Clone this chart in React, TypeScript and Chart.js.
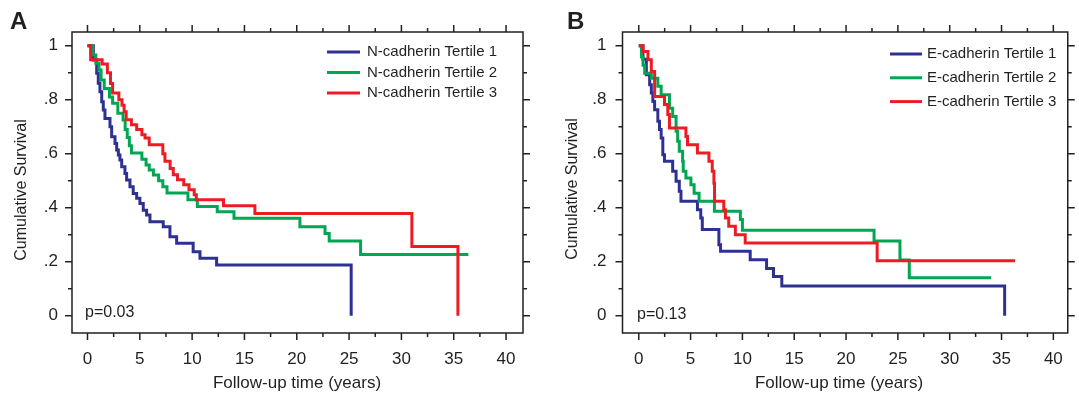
import React, { useEffect, useRef } from 'react';
import { Chart, registerables } from 'chart.js';
Chart.register(...registerables);

// ---- tick definitions ----
const X_TICKS = [0, 5, 10, 15, 20, 25, 30, 35, 40];
const X_MINOR = [2.5, 7.5, 12.5, 17.5, 22.5, 27.5, 32.5, 37.5];
const Y_TICKS = [0, 0.2, 0.4, 0.6, 0.8, 1];
const Y_LABELS = ['0', '.2', '.4', '.6', '.8', '1'];
const Y_MINOR = [0.1, 0.3, 0.5, 0.7, 0.9];
const X_TITLE = 'Follow-up time (years)';
const Y_TITLE = 'Cumulative Survival';

// ---- panel A: N-cadherin ----
const A_LABELS = ['N-cadherin Tertile 1', 'N-cadherin Tertile 2', 'N-cadherin Tertile 3'];
const A_P = 'p=0.03';
const A_T1_TIME = [0, 0.56, 0.88, 1.03, 1.19, 1.36, 1.51, 1.67, 2.15, 2.31, 2.63, 2.79, 2.95, 3.1, 3.27, 3.58, 3.74, 4.06, 4.37, 4.7, 5.01, 5.33, 5.65, 5.97, 7.24, 7.88, 8.52, 10.1, 10.75, 12.34, 25.2];
const A_T1_SURV = [1, 0.947, 0.898, 0.861, 0.83, 0.793, 0.762, 0.731, 0.7, 0.663, 0.638, 0.614, 0.595, 0.577, 0.552, 0.527, 0.503, 0.478, 0.453, 0.435, 0.416, 0.391, 0.373, 0.348, 0.33, 0.293, 0.268, 0.237, 0.213, 0.188, 0];
const A_T2_TIME = [0, 0.5, 0.8, 1.1, 1.3, 1.6, 2.1, 2.4, 2.9, 3.4, 3.6, 3.8, 4.0, 4.2, 5.2, 5.6, 5.9, 6.3, 6.8, 7.2, 7.6, 9.6, 10.5, 12.4, 14.0, 20.3, 22.7, 23.1, 26.1, 36.4];
const A_T2_SURV = [1, 0.966, 0.935, 0.91, 0.873, 0.842, 0.81, 0.787, 0.75, 0.725, 0.69, 0.66, 0.63, 0.603, 0.58, 0.558, 0.54, 0.521, 0.5, 0.478, 0.455, 0.43, 0.405, 0.385, 0.361, 0.33, 0.305, 0.277, 0.227, 0.227];
const A_T3_TIME = [0, 0.3, 1.4, 1.9, 2.2, 2.4, 3.0, 3.3, 3.5, 3.7, 4.2, 4.7, 5.2, 5.5, 5.9, 7.2, 7.4, 7.9, 8.2, 8.6, 9.2, 9.7, 10.2, 10.4, 13.0, 16.0, 31.0, 35.4];
const A_T3_SURV = [1, 0.948, 0.932, 0.9, 0.86, 0.825, 0.8, 0.78, 0.756, 0.726, 0.707, 0.69, 0.67, 0.658, 0.633, 0.6, 0.572, 0.545, 0.522, 0.504, 0.485, 0.467, 0.448, 0.43, 0.407, 0.379, 0.256, 0];

// ---- panel B: E-cadherin ----
const B_LABELS = ['E-cadherin Tertile 1', 'E-cadherin Tertile 2', 'E-cadherin Tertile 3'];
const B_P = 'p=0.13';
const B_T1_TIME = [0, 0.4, 0.73, 1.05, 1.21, 1.36, 1.53, 1.84, 2.0, 2.16, 2.32, 2.48, 3.27, 3.6, 3.91, 4.07, 5.66, 5.98, 6.13, 7.73, 7.89, 10.75, 12.33, 13.0, 13.8, 35.3];
const B_T1_SURV = [1, 0.95, 0.893, 0.856, 0.825, 0.794, 0.763, 0.72, 0.69, 0.658, 0.596, 0.572, 0.535, 0.498, 0.461, 0.424, 0.393, 0.362, 0.319, 0.263, 0.239, 0.207, 0.175, 0.145, 0.11, 0];
const B_T2_TIME = [0, 0.26, 0.41, 0.57, 1.21, 1.84, 2.16, 2.96, 3.27, 3.6, 3.75, 3.91, 4.23, 4.29, 4.55, 5.03, 5.34, 5.82, 7.3, 9.8, 10.0, 22.7, 25.2, 26.1, 34.0];
const B_T2_SURV = [1, 0.959, 0.928, 0.898, 0.88, 0.85, 0.819, 0.769, 0.738, 0.683, 0.646, 0.609, 0.572, 0.535, 0.51, 0.485, 0.454, 0.424, 0.387, 0.356, 0.317, 0.277, 0.206, 0.141, 0.141];
const B_T3_TIME = [0, 0.41, 0.89, 1.21, 1.53, 2.48, 2.8, 2.96, 4.55, 4.7, 5.66, 6.77, 7.09, 7.25, 7.31, 8.2, 8.36, 8.68, 9.32, 10.27, 23.0, 36.3];
const B_T3_SURV = [1, 0.979, 0.948, 0.905, 0.812, 0.782, 0.745, 0.695, 0.664, 0.633, 0.603, 0.572, 0.535, 0.491, 0.424, 0.393, 0.362, 0.331, 0.3, 0.269, 0.204, 0.204];

const COLORS = ['#2e3192', '#00a651', '#ed1c24'];
const INK = '#231f20';
const FONT = '"Liberation Sans", Arial, Helvetica, sans-serif';
const H = 399;

type Layout = {
  left: number; width: number;
  area: { left: number; right: number; top: number; bottom: number };
  xRange: [number, number]; yRange: [number, number];
  yLabelPad: number; xLabelPad: number;
  yTitle: [number, number]; xTitle: [number, number];
  legend: { lineX: number; lineLen: number; textX: number; y: number; gap: number };
  p: [number, number]; letter: [number, number];
};

const LAYOUT_A: Layout = {
  left: 0, width: 540,
  area: { left: 72, right: 523, top: 32, bottom: 333 },
  xRange: [-1.48, 41.62], yRange: [-0.064, 1.051],
  yLabelPad: 14, xLabelPad: 16,
  yTitle: [22, 190], xTitle: [297, 383],
  legend: { lineX: 327, lineLen: 33, textX: 367, y: 52, gap: 20.5 },
  p: [85, 313], letter: [10, 29],
};
const LAYOUT_B: Layout = {
  left: 540, width: 539,
  area: { left: 82.5, right: 533, top: 32, bottom: 333 },
  xRange: [-1.57, 41.39], yRange: [-0.064, 1.051],
  yLabelPad: 16, xLabelPad: 16,
  yTitle: [33, 189], xTitle: [299, 383],
  legend: { lineX: 350, lineLen: 32, textX: 387, y: 54, gap: 23.8 },
  p: [97, 315], letter: [27, 29],
};

type PanelProps = {
  letter: string; labels: string[]; pText: string;
  times: number[][]; survs: number[][]; layout: Layout;
};

function Panel({ letter, labels, pText, times, survs, layout: L }: PanelProps) {
  const ref = useRef<HTMLCanvasElement>(null);
  useEffect(() => {
    const canvas = ref.current;
    if (!canvas) return;
    const datasets = times.map((t, i) => ({
      label: labels[i],
      data: t.map((x, j) => ({ x, y: survs[i][j] })),
      borderColor: COLORS[i],
      backgroundColor: COLORS[i],
      borderWidth: 3,
      pointRadius: 0,
      stepped: 'before' as const,
      tension: 0,
      fill: false,
      order: 3 - i,
      borderJoinStyle: 'miter' as const,
      borderCapStyle: 'butt' as const,
    }));

    const deco = {
      id: 'deco',
      beforeDatasetsDraw(chart: any) {
        const { ctx, chartArea: a } = chart;
        const xs = chart.scales.x;
        const ys = chart.scales.y;
        ctx.save();
        ctx.strokeStyle = INK;
        ctx.lineWidth = 1.5;
        ctx.strokeRect(a.left, a.top, a.right - a.left, a.bottom - a.top);
        const tick = (x1: number, y1: number, x2: number, y2: number) => {
          ctx.beginPath(); ctx.moveTo(x1, y1); ctx.lineTo(x2, y2); ctx.stroke();
        };
        X_TICKS.forEach(v => {
          const px = xs.getPixelForValue(v);
          tick(px, a.bottom, px, a.bottom + 7);
          tick(px, a.top, px, a.top - 7);
        });
        X_MINOR.forEach(v => {
          const px = xs.getPixelForValue(v);
          tick(px, a.bottom, px, a.bottom + 4);
          tick(px, a.top, px, a.top - 4);
        });
        Y_TICKS.forEach(v => {
          const py = ys.getPixelForValue(v);
          tick(a.left, py, a.left - 7, py);
          tick(a.right, py, a.right + 7, py);
        });
        Y_MINOR.forEach(v => {
          const py = ys.getPixelForValue(v);
          tick(a.left, py, a.left - 4, py);
          tick(a.right, py, a.right + 4, py);
        });
        ctx.restore();
      },
      afterDraw(chart: any) {
        const { ctx } = chart;
        ctx.save();
        ctx.fillStyle = INK;
        // axis titles
        ctx.font = `17px ${FONT}`;
        ctx.textAlign = 'center';
        ctx.textBaseline = 'middle';
        ctx.fillText(X_TITLE, L.xTitle[0], L.xTitle[1]);
        ctx.save();
        ctx.translate(L.yTitle[0], L.yTitle[1]);
        ctx.rotate(-Math.PI / 2);
        ctx.font = `16px ${FONT}`;
        ctx.fillText(Y_TITLE, 0, 0);
        ctx.restore();
        // legend
        ctx.font = `15px ${FONT}`;
        ctx.textAlign = 'left';
        chart.data.datasets.forEach((ds: any, i: number) => {
          const y = L.legend.y + i * L.legend.gap;
          ctx.strokeStyle = ds.borderColor;
          ctx.lineWidth = 3;
          ctx.beginPath();
          ctx.moveTo(L.legend.lineX, y);
          ctx.lineTo(L.legend.lineX + L.legend.lineLen, y);
          ctx.stroke();
          ctx.fillStyle = INK;
          ctx.fillText(ds.label, L.legend.textX, y);
        });
        // p value
        ctx.font = `16px ${FONT}`;
        ctx.fillText(pText, L.p[0], L.p[1]);
        // panel letter
        ctx.font = `bold 24px ${FONT}`;
        ctx.textBaseline = 'alphabetic';
        ctx.fillText(letter, L.letter[0], L.letter[1]);
        ctx.restore();
      },
    };

    const chart = new Chart(canvas, {
      type: 'line',
      data: { datasets: datasets as any },
      options: {
        animation: false,
        responsive: false,
        maintainAspectRatio: false,
        layout: { padding: { top: L.area.top, left: 0, right: L.width - L.area.right, bottom: 0 } },
        plugins: { legend: { display: false }, tooltip: { enabled: false }, title: { display: false } },
        scales: {
          x: {
            type: 'linear',
            min: L.xRange[0],
            max: L.xRange[1],
            afterBuildTicks: (s: any) => { s.ticks = X_TICKS.map(v => ({ value: v })); },
            afterFit: (s: any) => { s.height = H - L.area.bottom; },
            ticks: {
              autoSkip: false, maxRotation: 0, minRotation: 0,
              padding: L.xLabelPad, color: INK,
              font: { family: FONT, size: 17 },
              callback: (v: any) => String(v),
            },
            grid: { display: false, drawTicks: false },
            border: { display: false },
          },
          y: {
            type: 'linear',
            min: L.yRange[0],
            max: L.yRange[1],
            afterBuildTicks: (s: any) => { s.ticks = Y_TICKS.map(v => ({ value: v })); },
            afterFit: (s: any) => { s.width = L.area.left; },
            ticks: {
              autoSkip: false, padding: L.yLabelPad, color: INK,
              font: { family: FONT, size: 17 },
              callback: (_v: any, i: number) => Y_LABELS[i],
            },
            grid: { display: false, drawTicks: false },
            border: { display: false },
          },
        },
      },
      plugins: [deco],
    } as any);
    return () => chart.destroy();
  }, []);
  return (
    <canvas
      ref={ref}
      width={L.width}
      height={H}
      style={{ position: 'absolute', left: L.left, top: 0, width: L.width, height: H }}
    />
  );
}

export default function App() {
  return (
    <div style={{ position: 'absolute', left: 0, top: 0, width: 1079, height: H, background: '#fff', overflow: 'hidden' }}>
      <Panel
        letter="A" labels={A_LABELS} pText={A_P} layout={LAYOUT_A}
        times={[A_T1_TIME, A_T2_TIME, A_T3_TIME]}
        survs={[A_T1_SURV, A_T2_SURV, A_T3_SURV]}
      />
      <Panel
        letter="B" labels={B_LABELS} pText={B_P} layout={LAYOUT_B}
        times={[B_T1_TIME, B_T2_TIME, B_T3_TIME]}
        survs={[B_T1_SURV, B_T2_SURV, B_T3_SURV]}
      />
    </div>
  );
}
